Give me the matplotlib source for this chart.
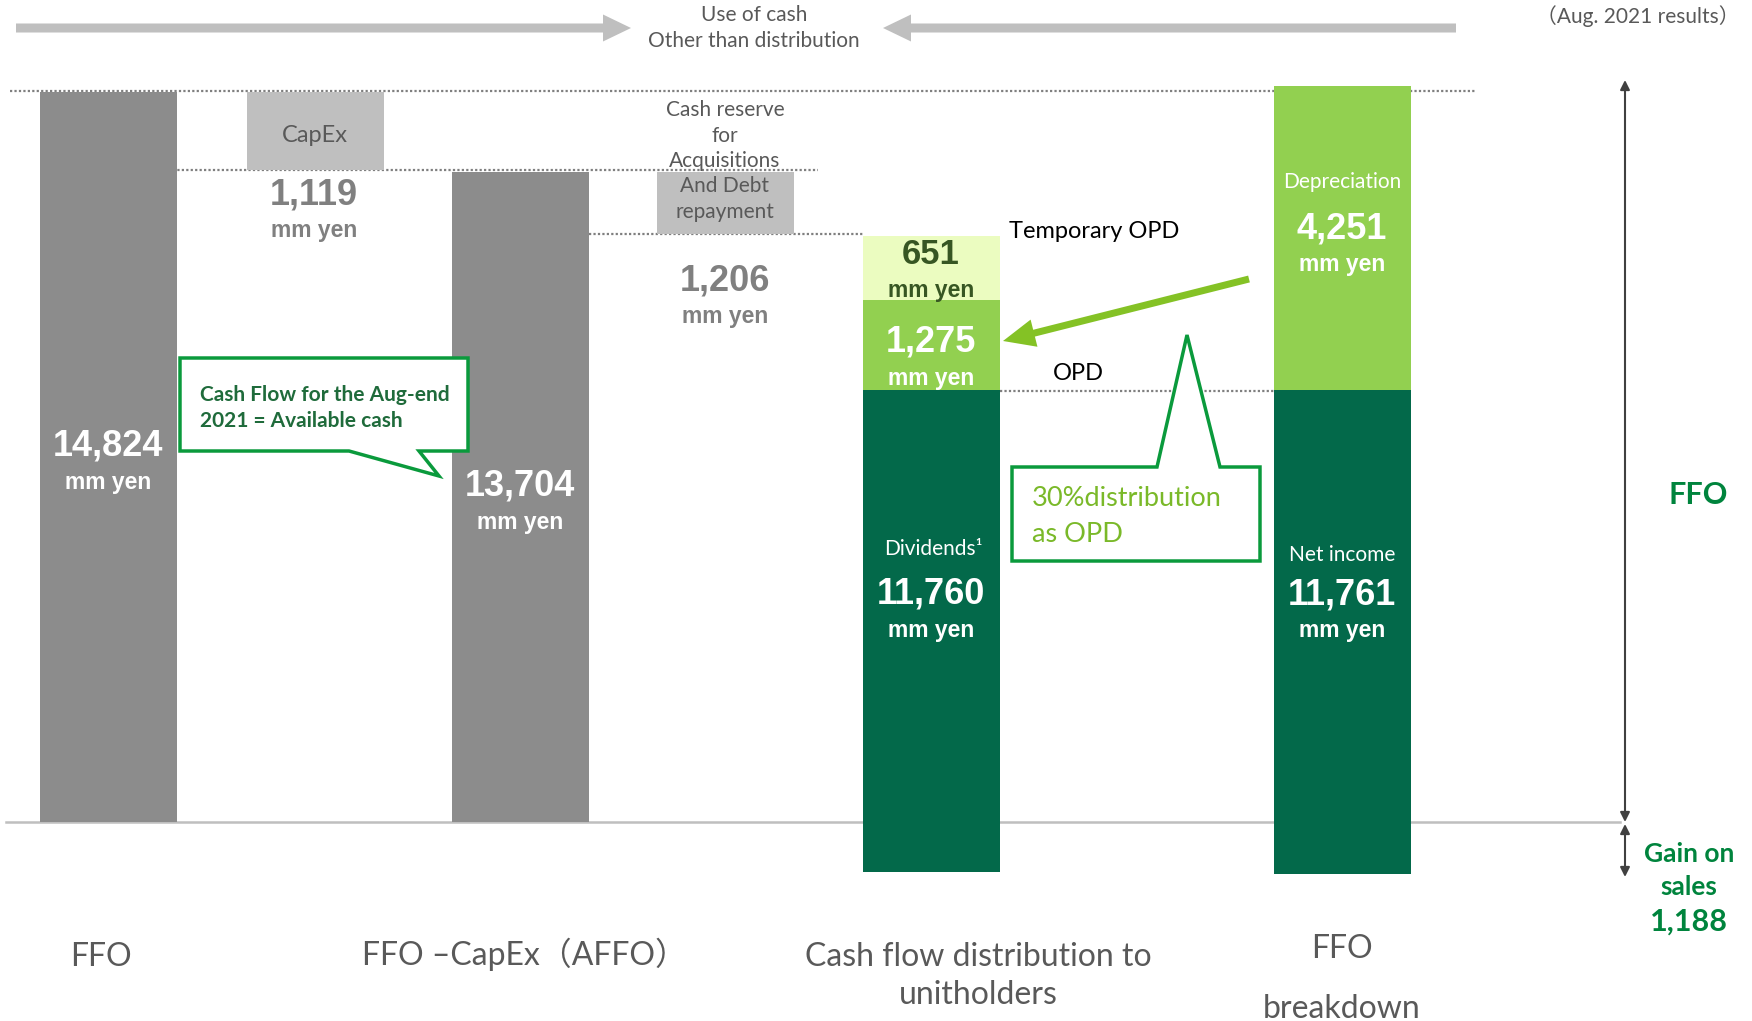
import matplotlib.pyplot as plt
from matplotlib.patches import Polygon, FancyArrow

# values (mm yen)
ffo = 14824
capex = 1119
affo = 13704
reserve = 1206
temp_opd = 651
opd = 1275
dividends = 11760
depreciation = 4251
net_income = 11761
gain_on_sales = 1188

categories = ["FFO", "FFO –CapEx（AFFO）", "Cash flow distribution to\nunitholders", "FFO\n\nbreakdown"]
reserve_text = ["Cash reserve", "for", "Acquisitions", "And Debt", "repayment"]

# diagram is not drawn to scale: drawn (bottom, top) of each block, px above baseline
bar_x = [108, 315, 520, 725, 931, 1342]
bar_w = 137
ffo_seg = (0, 730)
capex_seg = (652, 730)
affo_seg = (0, 650)
reserve_seg = (588, 650)
div_seg = (-50, 432)
opd_seg = (432, 522)
temp_seg = (522, 586)
dep_seg = (432, 736)
ni_seg = (-52, 432)

GRAY_BAR = "#8c8c8c"
LIGHT_GRAY = "#bfbfbf"
PALE = "#ebfcc0"
GREEN = "#92d050"
DARK_GREEN = "#03694a"
TXT_GRAY = "#595959"
NUM_GRAY = "#808080"

LAB = ["Lato", "Noto Sans CJK JP", "DejaVu Sans"]
NUM = ["Liberation Sans", "DejaVu Sans"]

fig = plt.figure(figsize=(17.52, 10.21), dpi=100)
ax = fig.add_axes([0, 0, 1, 1])
ax.set_xlim(0, 1752)
ax.set_ylim(822 - 1021, 822)
ax.axis("off")


def block(x, seg, color):
    ax.bar(x, seg[1] - seg[0], bottom=seg[0], width=bar_w, color=color, zorder=3, linewidth=0)


block(bar_x[0], ffo_seg, GRAY_BAR)
block(bar_x[1], capex_seg, LIGHT_GRAY)
block(bar_x[2], affo_seg, GRAY_BAR)
block(bar_x[3], reserve_seg, LIGHT_GRAY)
block(bar_x[4], div_seg, DARK_GREEN)
block(bar_x[4], opd_seg, GREEN)
block(bar_x[4], temp_seg, PALE)
block(bar_x[5], ni_seg, DARK_GREEN)
block(bar_x[5], dep_seg, GREEN)

# dotted guide lines and baseline
dot = dict(color="#7f7f7f", linestyle=(0, (1, 1)), linewidth=1.6, zorder=2)
ax.plot([10, 1475], [731, 731], **dot)
ax.plot([164, 818], [652, 652], **dot)
ax.plot([589, 864], [588, 588], **dot)
ax.plot([1000, 1274], [431, 431], **dot)
ax.plot([6, 1620], [0, 0], color=LIGHT_GRAY, linewidth=1.8, zorder=2)

# top arrows
ax.add_patch(FancyArrow(16, 794, 615, 0, width=9, head_width=27, head_length=28,
                        length_includes_head=True, color=LIGHT_GRAY, linewidth=0))
ax.add_patch(FancyArrow(1456, 794, -573, 0, width=9, head_width=27, head_length=28,
                        length_includes_head=True, color=LIGHT_GRAY, linewidth=0))
ax.text(754, 807, "Use of cash", ha="center", va="center", fontsize=15, color=TXT_GRAY, family=LAB)
ax.text(754, 781, "Other than distribution", ha="center", va="center", fontsize=15, color=TXT_GRAY, family=LAB)
ax.text(1740, 806, "（Aug. 2021 results）", ha="right", va="center", fontsize=15, color=TXT_GRAY, family=LAB)


def amount(x, y, val, color="white", size=26):
    ax.text(x, y, f"{val:,}", ha="center", va="center", fontsize=size, color=color,
            family=NUM, weight="bold", zorder=5)
    ax.text(x, y - 36, "mm yen", ha="center", va="center", fontsize=16.5, color=color,
            family=NUM, weight="bold", zorder=5)


amount(bar_x[0], 376, ffo)
amount(bar_x[2], 336, affo)
amount(314, 627, capex, NUM_GRAY)
amount(725, 541, reserve, NUM_GRAY)
amount(bar_x[4], 568, temp_opd, "#375623", 25)
amount(bar_x[4], 480, opd)
amount(bar_x[4], 228, dividends)
amount(bar_x[5], 593, depreciation)
amount(bar_x[5], 227, net_income)

ax.text(bar_x[1], 687, "CapEx", ha="center", va="center", fontsize=17, color=TXT_GRAY, family=LAB, zorder=5)
for i, t in enumerate(reserve_text):
    ax.text(725, 712 - i * 25.5, t, ha="center", va="center", fontsize=15, color=TXT_GRAY, family=LAB, zorder=5)

ax.text(bar_x[4] + 2, 273, "Dividends¹", ha="center", va="center", fontsize=15, color="white", family=LAB, zorder=5)
ax.text(bar_x[5], 640, "Depreciation", ha="center", va="center", fontsize=15, color="white", family=LAB, zorder=5)
ax.text(bar_x[5], 267, "Net income", ha="center", va="center", fontsize=15, color="white", family=LAB, zorder=5)
ax.text(1009, 591, "Temporary OPD", ha="left", va="center", fontsize=17, color="black", family=LAB)
ax.text(1078, 449, "OPD", ha="center", va="center", fontsize=17, color="black", family=LAB)

# callout boxes
ax.add_patch(Polygon([(180, 464), (468, 464), (468, 371), (419, 371), (439, 346), (349, 371), (180, 371)],
                     closed=True, facecolor="white", edgecolor="#0a9a3c", linewidth=2.5, zorder=4))
ax.text(200, 427, "Cash Flow for the Aug-end", ha="left", va="center", fontsize=15, color="#1f6b3b",
        family=LAB, weight="bold", zorder=5)
ax.text(200, 401, "2021 = Available cash", ha="left", va="center", fontsize=15, color="#1f6b3b",
        family=LAB, weight="bold", zorder=5)

ax.add_patch(Polygon([(1012, 355), (1157, 355), (1187, 487), (1220, 355), (1260, 355), (1260, 261), (1012, 261)],
                     closed=True, facecolor="white", edgecolor="#0a9a3c", linewidth=2.5, zorder=4))
ax.text(1032, 323, "30%distribution", ha="left", va="center", fontsize=19.5, color="#7ab929", family=LAB, zorder=5)
ax.text(1032, 288, "as OPD", ha="left", va="center", fontsize=19.5, color="#7ab929", family=LAB, zorder=5)

# green arrow to OPD block
ax.add_patch(FancyArrow(1249, 543, -246, -62, width=7, head_width=28, head_length=32,
                        length_includes_head=True, color="#84c225", linewidth=0, zorder=5))

# FFO / gain on sales arrows on the right
ax.annotate("", xy=(1625, 742), xytext=(1625, 0),
            arrowprops=dict(arrowstyle="<|-|>", color="#404040", lw=1.5, shrinkA=0, shrinkB=0,
                            mutation_scale=14))
ax.annotate("", xy=(1625, -2), xytext=(1625, -55),
            arrowprops=dict(arrowstyle="<|-|>", color="#404040", lw=1.5, shrinkA=0, shrinkB=0,
                            mutation_scale=14))
ax.text(1698, 327, "FFO", ha="center", va="center", fontsize=22, color="#00843d", family=LAB, weight="bold")
ax.text(1689, -32, "Gain on", ha="center", va="center", fontsize=19, color="#00843d", family=LAB, weight="bold")
ax.text(1689, -65, "sales", ha="center", va="center", fontsize=19, color="#00843d", family=LAB, weight="bold")
ax.text(1689, -100, f"{gain_on_sales:,}", ha="center", va="center", fontsize=22, color="#00843d",
        family=LAB, weight="bold")

# category labels
cat_pos = [(101, -135), (525, -132), (978, -154), (1342, -157)]
for (x, y), lab in zip(cat_pos, categories):
    ax.text(x, y, lab, ha="center", va="center", fontsize=23, color=TXT_GRAY, family=LAB,
            linespacing=1.3 if "unitholders" in lab else 1.0)

fig.savefig("out.png", dpi=100)
